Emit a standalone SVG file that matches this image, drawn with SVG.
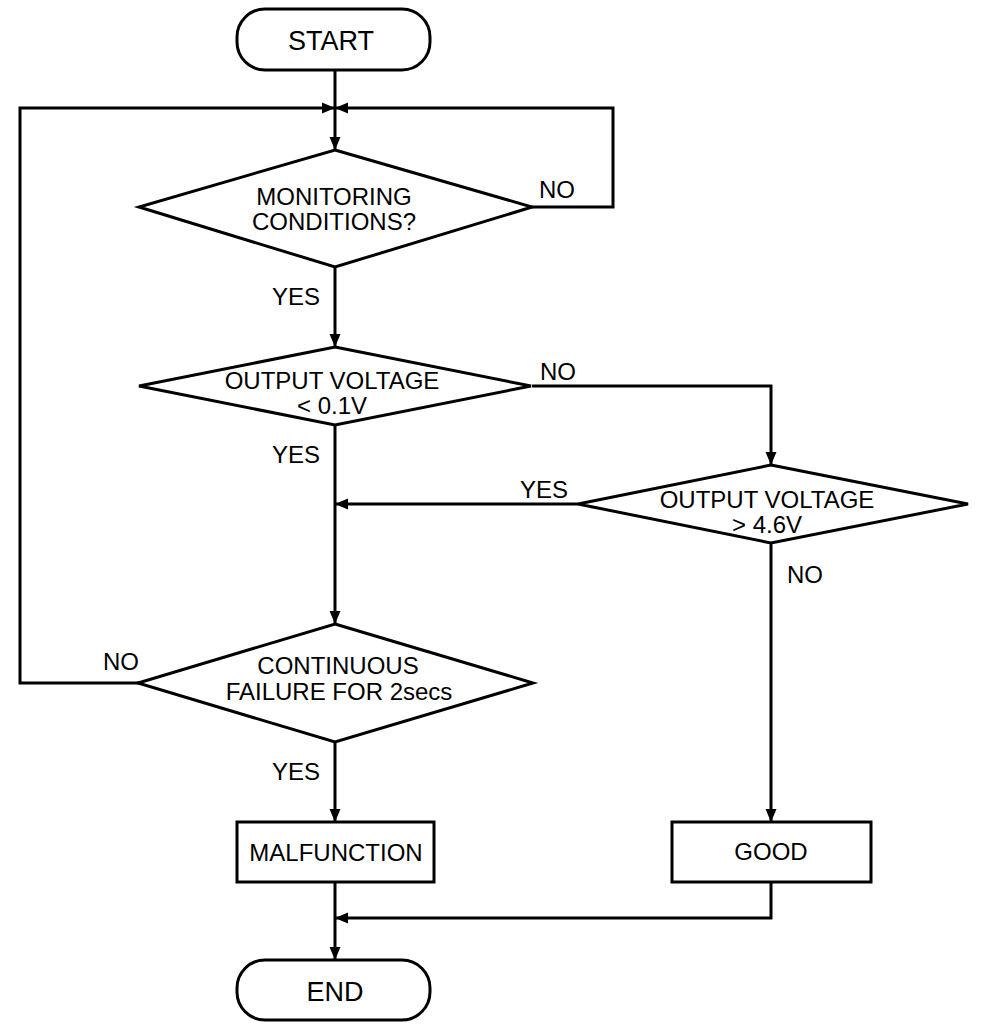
<svg xmlns="http://www.w3.org/2000/svg" width="1008" height="1030" viewBox="0 0 1008 1030">
<style>
.shape{fill:#fff;stroke:#000;stroke-width:3}
.conn{fill:none;stroke:#000;stroke-width:3;stroke-linejoin:miter}
text{font-family:"Liberation Sans",Arial,sans-serif;font-size:24px;fill:#000}
.big{font-size:27px}
.c{text-anchor:middle}
</style>
<defs>
<marker id="arr" markerUnits="userSpaceOnUse" markerWidth="14" markerHeight="12" refX="13" refY="6" orient="auto">
<path d="M0,0.5 L13,6 L0,11.5 z" fill="#000"/>
</marker>
</defs>
<rect width="1008" height="1030" fill="#fff"/>
<g id="connectors">
<path class="conn" d="M335,70 V150" marker-end="url(#arr)"/>
<path class="conn" d="M139,683 H20 V108 H335" marker-end="url(#arr)"/>
<path class="conn" d="M532,207 H613 V108 H335" marker-end="url(#arr)"/>
<path class="conn" d="M335,267 V347" marker-end="url(#arr)"/>
<path class="conn" d="M532,386 H771 V465" marker-end="url(#arr)"/>
<path class="conn" d="M335,425 V624" marker-end="url(#arr)"/>
<path class="conn" d="M578,504 H335" marker-end="url(#arr)"/>
<path class="conn" d="M771,543 V822" marker-end="url(#arr)"/>
<path class="conn" d="M335,742 V822" marker-end="url(#arr)"/>
<path class="conn" d="M771,882 V918 H335" marker-end="url(#arr)"/>
<path class="conn" d="M335,882 V960" marker-end="url(#arr)"/>
<text x="539" y="198">NO</text>
<text x="272" y="305">YES</text>
<text x="540" y="380">NO</text>
<text x="272" y="463">YES</text>
<text x="520" y="498">YES</text>
<text x="787" y="583">NO</text>
<text x="103" y="670">NO</text>
<text x="272" y="780">YES</text>
</g>
<g id="start">
<rect class="shape" x="237" y="9" width="193" height="61" rx="28" ry="28"/>
<text class="c big" x="331" y="50">START</text>
</g>
<g id="monitoring">
<polygon class="shape" points="335,150 532,207 335,267 139,207"/>
<text class="c" x="334" y="205">MONITORING</text>
<text class="c" x="334" y="230">CONDITIONS?</text>
</g>
<g id="low_voltage">
<polygon class="shape" points="335,347 531,386 335,425 139,386"/>
<text class="c" x="332" y="389">OUTPUT VOLTAGE</text>
<text class="c" x="332" y="414">&lt; 0.1V</text>
</g>
<g id="high_voltage">
<polygon class="shape" points="771,465 968,504 771,543 578,504"/>
<text class="c" x="767" y="508">OUTPUT VOLTAGE</text>
<text class="c" x="767" y="533">&gt; 4.6V</text>
</g>
<g id="continuous">
<polygon class="shape" points="335,624 533,683 335,742 138,683"/>
<text class="c" x="338" y="674">CONTINUOUS</text>
<text class="c" x="339" y="700">FAILURE FOR 2secs</text>
</g>
<g id="malfunction">
<rect class="shape" x="237" y="822" width="197" height="60"/>
<text class="c" x="336" y="861">MALFUNCTION</text>
</g>
<g id="good">
<rect class="shape" x="672" y="822" width="199" height="60"/>
<text class="c" x="771" y="860">GOOD</text>
</g>
<g id="end">
<rect class="shape" x="237" y="960" width="193" height="60" rx="28" ry="28"/>
<text class="c big" x="335" y="1001">END</text>
</g>
</svg>
